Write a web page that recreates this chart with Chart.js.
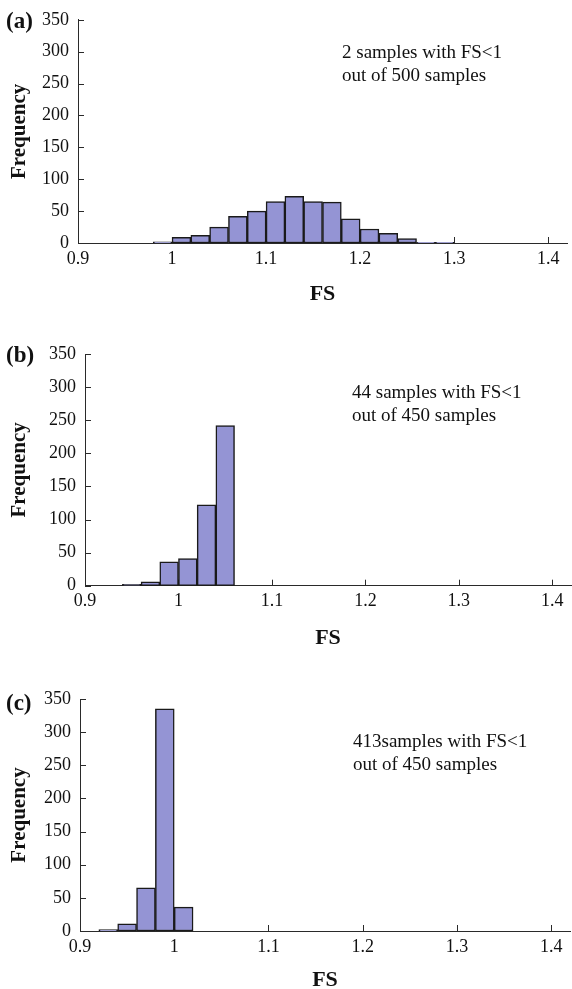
<!DOCTYPE html>
<html>
<head>
<meta charset="utf-8">
<script src="https://cdn.jsdelivr.net/npm/chart.js@4.4.1/dist/chart.umd.min.js"></script>
<style>
  html, body { margin: 0; padding: 0; background: #fff; overflow: hidden; }
  #wrap { position: relative; width: 572px; height: 989px; overflow: hidden; }
  canvas { position: absolute; left: 0; }
  .lbl { position: absolute; font-family: 'Liberation Serif', 'Times New Roman', serif; font-weight: bold; font-size: 23px; line-height: 22px; color: #111; white-space: nowrap; }
  .note { position: absolute; font-family: 'Liberation Serif', 'Times New Roman', serif; font-size: 19px; line-height: 23px; color: #111; white-space: nowrap; }
</style>
</head>
<body>
<div id="wrap">
  <canvas id="cA" width="572" height="310" style="top:0px"></canvas>
  <canvas id="cB" width="572" height="340" style="top:320px"></canvas>
  <canvas id="cC" width="572" height="340" style="top:660px"></canvas>
</div>
<script>
// ---------------- data ----------------
const xTickValues = [0.9, 1.0, 1.1, 1.2, 1.3, 1.4];
const yTickValues = [0, 50, 100, 150, 200, 250, 300, 350];
const binWidth = 0.02;

const binsA   = [0.98, 1.00, 1.02, 1.04, 1.06, 1.08, 1.10, 1.12, 1.14, 1.16, 1.18, 1.20, 1.22, 1.24, 1.26, 1.28];
const countsA = [2,    9,    12,   25,   42,   50,   65,   73,   65,   64,   38,   22,   15,   7,    1,    1];

const binsB   = [0.94, 0.96, 0.98, 1.00, 1.02, 1.04];
const countsB = [2,    6,    36,   41,   122,  242];

const binsC   = [0.92, 0.94, 0.96, 0.98, 1.00];
const countsC = [2,    11,   65,   335,  36];

const panelLabels = ['(a)', '(b)', '(c)'];
const notesA = ['2 samples with FS<1', 'out of 500 samples'];
const notesB = ['44 samples with FS<1', 'out of 450 samples'];
const notesC = ['413samples with FS<1', 'out of 450 samples'];
const xTitle = 'FS';
const yTitle = 'Frequency';

// ---------------- layout / style ----------------
const FONT = "'Liberation Serif', 'Times New Roman', serif";
const BAR_FILL = '#9494d4';
const BAR_EDGE = '#1a1a1a';
const AXIS = '#2a2a2a';

const panels = [
  { id: 'cA', bins: binsA, counts: countsA, notes: notesA, label: panelLabels[0],
    yW: 78, xH: 67, padTop: 17, padRight: 5, fsPad: 2.4, labelTop: 10, noteLeft: 342, noteTop: 40 },
  { id: 'cB', bins: binsB, counts: countsB, notes: notesB, label: panelLabels[1],
    yW: 85, xH: 74.3, padTop: 34, padRight: 1, fsPad: 8, labelTop: 344, noteLeft: 352, noteTop: 380 },
  { id: 'cC', bins: binsC, counts: countsC, notes: notesC, label: panelLabels[2],
    yW: 80, xH: 69, padTop: 39, padRight: 2, fsPad: 6.4, labelTop: 692, noteLeft: 353, noteTop: 729 }
];

const inwardTicks = {
  id: 'inwardTicks',
  beforeDatasetsDraw(chart) {
    const { ctx, scales: { x, y } } = chart;
    ctx.save();
    ctx.strokeStyle = AXIS;
    ctx.lineWidth = 1;
    ctx.beginPath();
    x.ticks.forEach(t => {
      const px = Math.round(x.getPixelForValue(t.value)) + 0.5;
      ctx.moveTo(px, y.bottom);
      ctx.lineTo(px, y.bottom - 6);
    });
    y.ticks.forEach(t => {
      const py = Math.round(y.getPixelForValue(t.value)) + 0.5;
      ctx.moveTo(x.left, py);
      ctx.lineTo(x.left + 6, py);
    });
    ctx.stroke();
    ctx.restore();
  }
};

const wrap = document.getElementById('wrap');

panels.forEach(p => {
  const data = p.bins.map((b, i) => ({ x: b + binWidth / 2, y: p.counts[i] }));

  new Chart(document.getElementById(p.id), {
    type: 'bar',
    data: {
      datasets: [{
        data: data,
        backgroundColor: BAR_FILL,
        borderColor: BAR_EDGE,
        borderWidth: 1.5,
        borderSkipped: false,
        barPercentage: 1,
        categoryPercentage: 1
      }]
    },
    options: {
      responsive: false,
      animation: false,
      events: [],
      layout: { padding: { top: p.padTop, right: p.padRight, left: 0, bottom: 0 } },
      plugins: { legend: { display: false }, tooltip: { enabled: false } },
      scales: {
        x: {
          type: 'linear',
          min: 0.9,
          max: 1.42,
          offset: false,
          grid: { display: false, drawTicks: false },
          border: { display: true, color: AXIS, width: 1 },
          afterBuildTicks: s => { s.ticks = xTickValues.map(v => ({ value: v })); },
          afterFit: s => { s.height = p.xH; },
          ticks: {
            padding: 5,
            maxRotation: 0,
            autoSkip: false,
            color: '#111',
            font: { family: FONT, size: 18 },
            callback: v => String(Math.round(v * 100) / 100)
          },
          title: {
            display: true,
            text: xTitle,
            color: '#111',
            font: { family: FONT, size: 22, weight: 'bold' },
            padding: { top: 0, bottom: p.fsPad }
          }
        },
        y: {
          min: 0,
          max: 350,
          grid: { display: false, drawTicks: false },
          border: { display: true, color: AXIS, width: 1 },
          afterBuildTicks: s => { s.ticks = yTickValues.map(v => ({ value: v })); },
          afterFit: s => { s.width = p.yW; },
          ticks: {
            padding: 9,
            color: '#111',
            font: { family: FONT, size: 18 }
          },
          title: {
            display: true,
            text: yTitle,
            color: '#111',
            font: { family: FONT, size: 21, weight: 'bold' },
            padding: { top: 7, bottom: 0 }
          }
        }
      }
    },
    plugins: [inwardTicks]
  });

  const lab = document.createElement('div');
  lab.className = 'lbl';
  lab.style.left = '6px';
  lab.style.top = p.labelTop + 'px';
  lab.textContent = p.label;
  wrap.appendChild(lab);

  const note = document.createElement('div');
  note.className = 'note';
  note.style.left = p.noteLeft + 'px';
  note.style.top = p.noteTop + 'px';
  p.notes.forEach((t, i) => {
    const d = document.createElement('div');
    d.textContent = t;
    note.appendChild(d);
  });
  wrap.appendChild(note);
});
</script>
</body>
</html>
